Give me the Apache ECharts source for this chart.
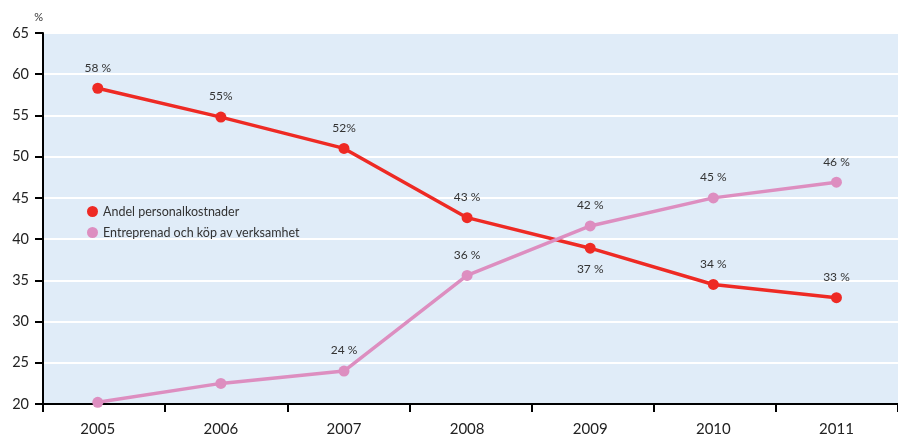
<!DOCTYPE html>
<html><head><meta charset="utf-8">
<script src="https://cdn.jsdelivr.net/npm/echarts@6/dist/echarts.min.js"></script>
<style>html,body{margin:0;padding:0;background:#fff}#c{width:898px;height:437px}</style>
</head><body><div id="c"></div>
<script>
const years = ['2005','2006','2007','2008','2009','2010','2011'];
const personal = [58.3, 54.8, 51.0, 42.6, 38.9, 34.5, 32.9];
const personalLabels = ['58 %','55%','52%','43 %','37 %','34 %','33 %'];
const entre = [20.2, 22.5, 24.0, 35.6, 41.6, 45.0, 46.9];
const entreLabels = ['','','24 %','36 %','42 %','45 %','46 %'];
const yTicks = [20,25,30,35,40,45,50,55,60,65];

const font = 'Lato, "Open Sans", sans-serif';
const chart = echarts.init(document.getElementById('c'));
const mk = (vals, labs, belowIdx) => vals.map((v,i)=>({
  value: v,
  label: {show: labs[i] !== '', formatter: labs[i], position: belowIdx.includes(i) ? 'bottom' : 'top', distance: 9}
}));
const yMin = yTicks[0], yMax = yTicks[yTicks.length-1];
chart.setOption({
  animation: false,
  backgroundColor: '#fff',
  grid: [
    {left: 43, top: 33, width: 861, height: 371, backgroundColor: '#e0ecf8', show: true, borderWidth: 0},
    {left: 36.2, top: 33, width: 865.7, height: 371, show: false}
  ],
  legend: {
    left: 82, top: 200, orient: 'vertical', itemWidth: 11, itemHeight: 11, itemGap: 8,
    textStyle: {fontFamily: font, fontSize: 12.5, color: '#333'},
    data: [{name: 'Andel personalkostnader', icon: 'circle'}, {name: 'Entreprenad och köp av verksamhet', icon: 'circle'}]
  },
  xAxis: [{
    gridIndex: 0, type: 'category', data: years, boundaryGap: true,
    axisLine: {lineStyle: {color: '#000', width: 2}},
    axisTick: {show: true, length: 8, lineStyle: {color: '#000', width: 2}},
    axisLabel: {show: false}
  }, {
    gridIndex: 1, type: 'category', data: years, boundaryGap: true,
    axisLine: {show: false}, axisTick: {show: false},
    axisLabel: {fontFamily: font, fontSize: 15, color: '#222', margin: 18}
  }],
  yAxis: [{
    gridIndex: 0, type: 'value', min: yMin, max: yMax, interval: 5,
    name: '%', nameLocation: 'end', nameGap: 10,
    nameTextStyle: {fontFamily: font, fontSize: 11, color: '#333', align: 'right'},
    axisLine: {show: true, lineStyle: {color: '#000', width: 2}},
    axisTick: {show: true, length: 8, lineStyle: {color: '#000', width: 2}},
    axisLabel: {fontFamily: font, fontSize: 14.5, color: '#222', margin: 14},
    splitLine: {lineStyle: {color: '#fff', width: 2}}
  }, {
    gridIndex: 1, type: 'value', min: yMin, max: yMax, interval: 5,
    axisLine: {show: false}, axisTick: {show: false}, axisLabel: {show: false}, splitLine: {show: false}
  }],
  series: [
    {name: 'Andel personalkostnader', type: 'line', xAxisIndex: 1, yAxisIndex: 1, data: mk(personal, personalLabels, [4]),
     color: '#ee2a24', lineStyle: {width: 3.5}, symbol: 'circle', symbolSize: 11,
     label: {fontFamily: font, fontSize: 12, color: '#333'}},
    {name: 'Entreprenad och köp av verksamhet', type: 'line', xAxisIndex: 1, yAxisIndex: 1, data: mk(entre, entreLabels, []),
     color: '#dd8ec0', lineStyle: {width: 3.5}, symbol: 'circle', symbolSize: 11,
     label: {fontFamily: font, fontSize: 12, color: '#333'}}
  ]
});
</script></body></html>
